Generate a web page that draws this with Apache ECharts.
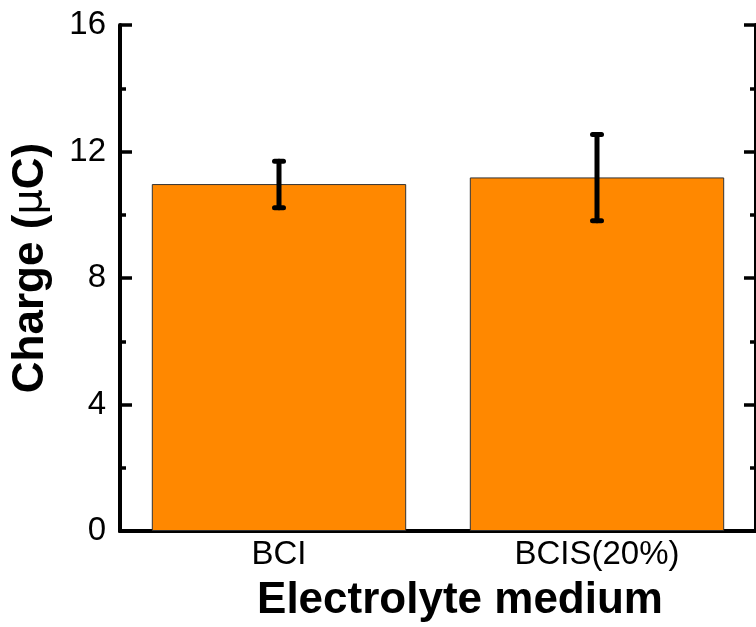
<!DOCTYPE html>
<html>
<head>
<meta charset="utf-8">
<script src="https://cdn.jsdelivr.net/npm/echarts@6/dist/echarts.min.js"></script>
<style>
html,body{margin:0;padding:0;background:#fff;}
#c{width:756px;height:627px;}
</style>
</head>
<body>
<div id="c"></div>
<script>
var categories = ['BCI', 'BCIS(20%)'];
var charge = [10.97, 11.18];
var errLow = [10.22, 9.81];
var errHigh = [11.69, 12.54];
var yTicks = [0, 4, 8, 12, 16];

var FONT = '"Liberation Sans", Arial, sans-serif';
var chart = echarts.init(document.getElementById('c'), null, {renderer: 'canvas'});

var errData = categories.map(function (c, i) { return [i, errLow[i], errHigh[i]]; });

function lineStyle() { return {color: '#000', width: 4}; }
function tickStyle() { return {color: '#000', width: 3.5}; }

chart.setOption({
  animation: false,
  backgroundColor: '#fff',
  grid: {left: 120, top: 25, width: 640, height: 506, containLabel: false},
  xAxis: [{
    type: 'category',
    data: categories,
    position: 'bottom',
    axisLine: {show: true, lineStyle: lineStyle()},
    axisTick: {show: false},
    axisLabel: {color: '#000', fontFamily: FONT, fontSize: 33, margin: 7}
  }, {
    type: 'category',
    data: categories,
    position: 'top',
    axisLine: {show: true, lineStyle: lineStyle()},
    axisTick: {show: false},
    axisLabel: {show: false}
  }],
  yAxis: [{
    type: 'value',
    min: yTicks[0], max: yTicks[yTicks.length - 1], interval: 4,
    position: 'left',
    axisLine: {show: true, lineStyle: lineStyle()},
    axisTick: {show: true, inside: true, length: 12, lineStyle: tickStyle()},
    minorTick: {show: true, splitNumber: 2, length: 6, lineStyle: tickStyle()},
    splitLine: {show: false},
    axisLabel: {color: '#000', fontFamily: FONT, fontSize: 33, margin: 14}
  }, {
    type: 'value',
    min: yTicks[0], max: yTicks[yTicks.length - 1], interval: 4,
    position: 'right',
    axisLine: {show: true, lineStyle: lineStyle()},
    axisTick: {show: true, inside: true, length: 12, lineStyle: tickStyle()},
    minorTick: {show: true, splitNumber: 2, length: 6, lineStyle: tickStyle()},
    splitLine: {show: false},
    axisLabel: {show: false}
  }],
  graphic: [{
    type: 'text',
    x: 460, y: 601,
    style: {text: 'Electrolyte medium', fontFamily: FONT, fontWeight: 'bold', fontSize: 44,
            fill: '#000', align: 'center', verticalAlign: 'middle'}
  }, {
    type: 'text',
    x: 31, y: 268,
    rotation: Math.PI / 2,
    style: {
      text: '{b|Charge (}{m|\u03bc}{b|C)}',
      fill: '#000', align: 'center', verticalAlign: 'middle',
      rich: {
        b: {fontFamily: FONT, fontWeight: 'bold', fontSize: 44, fill: '#000'},
        m: {fontFamily: '"DejaVu Sans", sans-serif', fontWeight: 'normal', fontSize: 40, fill: '#000'}
      }
    }
  }],
  series: [{
    type: 'bar',
    data: charge,
    barWidth: '80%',
    itemStyle: {color: '#FF8800', borderColor: '#333', borderWidth: 1},
    z: 2
  }, {
    type: 'custom',
    data: errData,
    z: 5,
    renderItem: function (params, api) {
      var i = api.value(0);
      var lo = api.coord([i, api.value(1)]);
      var hi = api.coord([i, api.value(2)]);
      var hw = 4.5;
      var st = {stroke: '#000', lineWidth: 5, lineCap: 'round'};
      return {
        type: 'group',
        children: [
          {type: 'line', shape: {x1: lo[0], y1: lo[1], x2: hi[0], y2: hi[1]}, style: st},
          {type: 'line', shape: {x1: lo[0] - hw, y1: lo[1], x2: lo[0] + hw, y2: lo[1]}, style: st},
          {type: 'line', shape: {x1: hi[0] - hw, y1: hi[1], x2: hi[0] + hw, y2: hi[1]}, style: st}
        ]
      };
    }
  }]
});
</script>
</body>
</html>
